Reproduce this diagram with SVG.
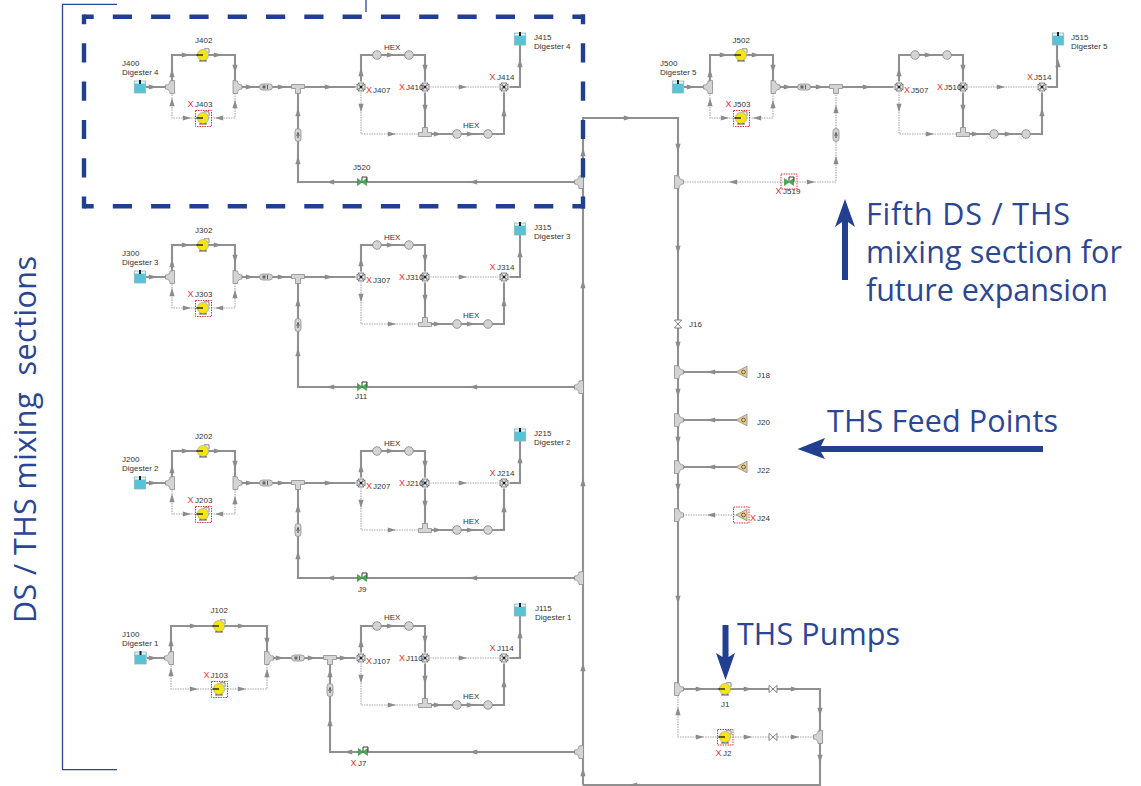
<svg xmlns="http://www.w3.org/2000/svg" width="1141" height="786" viewBox="0 0 1141 786">
<style>
text{font-family:"Liberation Sans",Arial,sans-serif;font-size:8px;fill:#333}
text.x{fill:#e8343a;font-size:9px}
text.big{font-family:"Open Sans","Noto Sans",sans-serif;font-size:30.500px;fill:#2a4695}
.pipe{fill:none;stroke:#909090;stroke-width:2.100}
.dot{fill:none;stroke:#a8a8a8;stroke-width:1.100;stroke-dasharray:1.500 1}
.dash{stroke:#213f90;stroke-width:4.400;stroke-dasharray:19.200 19.100;stroke-dashoffset:9.500;fill:none}
.blue{fill:none;stroke:#2a4695;stroke-width:1.300}
.rb{fill:none;stroke:#e8343a;stroke-width:1;stroke-dasharray:1.500 1}
.ah{fill:#8c8c8c}
.fit{fill:#d4d4d4;stroke:#8c8c8c;stroke-width:.8}
</style>
<defs>
<path id="ar" class="ah" d="M-4.200-2.600L4.200 0L-4.200 2.600Z"/>
<path id="al" class="ah" d="M4.200-2.600L-4.200 0L4.200 2.600Z"/>
<path id="au" class="ah" d="M-2.600 4.200L0-4.200L2.600 4.200Z"/>
<path id="ad" class="ah" d="M-2.600-4.200L0 4.200L2.600-4.200Z"/>
<g id="arL">
<use href="#ar" x="153" y="87"/><use href="#au" x="172" y="73"/><use href="#ar" x="186" y="55"/><use href="#ar" x="218" y="55"/><use href="#ad" x="235" y="69"/><use href="#au" x="172" y="102"/><use href="#ar" x="187" y="118"/><use href="#al" x="219" y="118"/><use href="#au" x="235" y="104"/><use href="#ar" x="250" y="87"/><use href="#ar" x="282" y="87"/><use href="#ar" x="329" y="87"/>
</g>
<g id="arH">
<use href="#au" x="361" y="72"/><use href="#ar" x="391" y="55"/><use href="#ad" x="425" y="69"/><use href="#ad" x="425" y="109"/><use href="#ar" x="438" y="134"/><use href="#ar" x="471" y="134"/><use href="#au" x="504" y="112"/><use href="#au" x="520" y="63"/><use href="#ad" x="361" y="108"/><use href="#ar" x="392" y="134"/><use href="#ar" x="463" y="87"/>
</g>
<g id="tank"><rect x="-5.700" y="-6" width="11.400" height="12" fill="#58c3d4" stroke="#8fb4ba" stroke-width=".8"/><rect x="-5.200" y="-5.600" width="10.400" height="2.200" fill="#e6f5f7"/><rect x="-1" y="-7" width="2" height="4" fill="#222"/></g>
<g id="pump"><path d="M-3 4.500L-4 6.500H4L3 4.500Z" fill="#555"/><path d="M1-6.200H6V-2" fill="none" stroke="#777" stroke-width=".9"/><circle r="5.600" fill="#f4e611" stroke="#9a9a9a" stroke-width=".6"/><path d="M-6.500 0H0" stroke="#111" stroke-width="1.300"/></g>
<path id="teeL" class="fit" d="M-2-6Q-2-2-6.500-2V2Q-2 2-2 6.500H2.500V-6.500Z" stroke-linejoin="round"/>
<path id="teeR" class="fit" d="M2-6Q2-2 6.500-2V2Q2 2 2 6.500H-2.500V-6.500Z" stroke-linejoin="round"/>
<path id="teeD" class="fit" d="M-6.500-2.500H6.500V1.500H2.500V6.500H-2.500V1.500H-6.500Z" stroke-linejoin="round"/>
<path id="teeU" class="fit" d="M-6.500 2.500H6.500V-1.500H2.500V-6.500H-2.500V-1.500H-6.500Z" stroke-linejoin="round"/>
<g id="pillH"><rect x="-6.500" y="-3" width="13" height="6" rx="3" class="fit"/><rect x="-3.500" y="-1.500" width="3" height="3" fill="#666"/><path d="M1.500-2V2" stroke="#444" stroke-width=".8"/></g>
<g id="pillV"><rect x="-3" y="-6.500" width="6" height="13" rx="3" class="fit"/><path d="M0-2.500V3" stroke="#444" stroke-width="1"/><path d="M-1.500 1L0-2.500L1.500 1" fill="none" stroke="#444" stroke-width=".6"/></g>
<circle id="hex" r="4.300" fill="#d4d4d4" stroke="#8c8c8c" stroke-width=".9"/>
<g id="vx"><circle r="5.500" fill="#fff"/><path d="M-4-3L0 0L-4 3ZM4-3L0 0L4 3ZM-3-4L0 0L3-4ZM-3 4L0 0L3 4Z" fill="#e8e8e8" stroke="#555" stroke-width=".7"/><circle r="1.300" fill="#222"/></g>
<g id="vh"><path d="M-4-3.600L4 3.600V-3.600L-4 3.600Z" fill="#fff" stroke="#777" stroke-width=".9"/></g>
<g id="vv"><path d="M-3.600-4L3.600 4H-3.600L3.600-4Z" fill="#fff" stroke="#777" stroke-width=".9"/></g>
<g id="cv"><path d="M-4.500-3.500L4.500 3.500V-3.500L-4.500 3.500Z" fill="#3fae4c" stroke="#2d8a3a" stroke-width=".6"/><path d="M0-1V-5H5V-.5" fill="none" stroke="#222" stroke-width=".9"/></g>
<g id="feed"><path d="M-6 0L5-5.800V5.800Z" fill="#e8cf8f" stroke="#8c8c8c" stroke-width=".8"/><circle cx="1.500" r="1.900" fill="none" stroke="#333" stroke-width=".7"/></g>
</defs>
<rect width="1141" height="786" fill="#fff"/>

<g id="connectors">
<path class="pipe" d="M146 87H172M172 87V55H235V87M235 87H361M298 87V182H581M361 87V55H425V134M425 134H504V87M504 87H520V39"/>
<path class="dot" d="M172 87V118H235V87M361 87V134H425M425 87H504"/>
<path class="pipe" d="M146 277H172M172 277V245H235V277M235 277H361M298 277V387H581M361 277V245H425V324M425 324H504V277M504 277H520V229"/>
<path class="dot" d="M172 277V308H235V277M361 277V324H425M425 277H504"/>
<path class="pipe" d="M146 483H172M172 483V451H235V483M235 483H361M298 483V578H581M361 483V451H425V530M425 530H504V483M504 483H520V435"/>
<path class="dot" d="M172 483V514H235V483M361 483V530H425M425 483H504"/>
<path class="pipe" d="M147 658H171M171 658V626H267V658M267 658H361M330 658V752H581M361 658V626H425V705M425 705H504V658M504 658H520V610"/>
<path class="dot" d="M171 658V689H267V658M361 658V705H425M425 658H504"/>
<path class="pipe" d="M684 87H710M710 87V55H773V87M773 87H899M899 87V55H963V134M963 134H1042V87M1042 87H1057V39"/>
<path class="dot" d="M710 87V118H773V87M836 87V182H680M899 87V134H963M963 87H1042"/>
<path class="pipe" d="M583 785V118H678V689M678 372H742M678 420H742M678 467H742M678 689H820V785H583"/>
<path class="dot" d="M678 515H742M678 689V737H820"/>
<g id="flow-arrows">
<use href="#arL"/><use href="#arL" y="190"/><use href="#arL" y="396"/><use href="#arL" x="538"/>
<use href="#arH"/><use href="#arH" y="190"/><use href="#arH" y="396"/><use href="#arH" y="571"/><use href="#arH" x="538"/>
<use href="#au" x="298" y="112"/><use href="#au" x="298" y="160"/><use href="#al" x="330" y="182"/><use href="#al" x="473" y="182"/>
<use href="#au" x="298" y="302"/><use href="#au" x="298" y="352"/><use href="#al" x="330" y="387"/><use href="#al" x="473" y="387"/>
<use href="#au" x="298" y="508"/><use href="#au" x="298" y="555"/><use href="#al" x="330" y="578"/><use href="#al" x="473" y="578"/>
<use href="#ar" x="153" y="658"/><use href="#au" x="171" y="642"/><use href="#ar" x="194" y="626"/><use href="#ar" x="242" y="626"/><use href="#ad" x="267" y="642"/><use href="#au" x="171" y="672"/><use href="#ar" x="194" y="689"/><use href="#ar" x="242" y="689"/><use href="#au" x="267" y="673"/><use href="#ar" x="280" y="658"/><use href="#ar" x="312" y="658"/><use href="#ar" x="344" y="658"/>
<use href="#au" x="330" y="673"/><use href="#au" x="330" y="722"/><use href="#al" x="348" y="752"/><use href="#al" x="473" y="752"/>
<use href="#au" x="836" y="109"/><use href="#au" x="836" y="160"/><use href="#ar" x="811" y="182"/><use href="#al" x="733" y="182"/>
<use href="#ar" x="628" y="118"/><use href="#ad" x="678" y="148"/><use href="#ad" x="678" y="250"/><use href="#ad" x="678" y="346"/><use href="#ad" x="678" y="393"/><use href="#ad" x="678" y="441"/><use href="#ad" x="678" y="488"/><use href="#ad" x="678" y="600"/>
<use href="#al" x="711" y="372"/><use href="#al" x="711" y="420"/><use href="#al" x="711" y="467"/><use href="#al" x="711" y="515"/>
<use href="#au" x="583" y="152"/><use href="#au" x="583" y="284"/><use href="#au" x="583" y="482"/><use href="#au" x="583" y="667"/><use href="#au" x="583" y="772"/>
<use href="#ar" x="700" y="689"/><use href="#ar" x="748" y="689"/><use href="#ar" x="795" y="689"/><use href="#au" x="678" y="711"/><use href="#ar" x="700" y="737"/><use href="#ar" x="748" y="737"/><use href="#ar" x="795" y="737"/><use href="#ad" x="820" y="712"/><use href="#ad" x="820" y="759"/><use href="#al" x="633" y="785"/>
</g>
</g>

<g id="J400"><use href="#tank" x="140" y="87"/><text x="122" y="66">J400</text><text x="122" y="75">Digester 4</text></g>
<g id="tee401"><use href="#teeL" x="172" y="87"/></g>
<g id="J402"><use href="#pump" x="203" y="55"/><text x="195" y="43">J402</text></g>
<g id="J403"><use href="#pump" x="203" y="118"/><rect class="rb" x="195.500" y="110.500" width="16" height="16"/><text class="x" x="187.500" y="107">X</text><text x="195" y="107">J403</text></g>
<g id="tee404"><use href="#teeR" x="235.500" y="87"/></g>
<g id="inst405"><use href="#pillH" x="266" y="87"/></g>
<g id="tee406"><use href="#teeD" x="298" y="87"/></g>
<g id="inst408"><use href="#pillV" x="298" y="135"/></g>
<g id="J407"><use href="#vx" x="361" y="87"/><text class="x" x="366" y="93">X</text><text x="373" y="93">J407</text></g>
<g id="hex401"><use href="#hex" x="377" y="55"/></g>
<g id="hex402"><use href="#hex" x="409" y="55"/><text x="384" y="50">HEX</text></g>
<g id="J410"><use href="#vx" x="425" y="87"/><text class="x" x="399" y="90">X</text><text x="406" y="90">J410</text></g>
<g id="tee411"><use href="#teeU" x="425" y="134"/></g>
<g id="hex403"><use href="#hex" x="457" y="134"/></g>
<g id="hex404"><use href="#hex" x="488" y="134"/><text x="463" y="128">HEX</text></g>
<g id="J414"><use href="#vx" x="504" y="87"/><text class="x" x="489.500" y="80">X</text><text x="497" y="80">J414</text></g>
<g id="J415"><use href="#tank" x="520" y="39"/><text x="534" y="40">J415</text><text x="534" y="49">Digester 4</text></g>
<g id="J520"><use href="#cv" x="362" y="182"/><text x="353" y="170">J520</text></g>
<g id="tee421"><use href="#teeL" x="581" y="182"/></g>

<g id="J300"><use href="#tank" x="140" y="277"/><text x="122" y="256">J300</text><text x="122" y="265">Digester 3</text></g>
<g id="tee301"><use href="#teeL" x="172" y="277"/></g>
<g id="J302"><use href="#pump" x="203" y="245"/><text x="195" y="233">J302</text></g>
<g id="J303"><use href="#pump" x="203" y="308"/><rect class="rb" x="195.500" y="300.500" width="16" height="16"/><text class="x" x="187.500" y="297">X</text><text x="195" y="297">J303</text></g>
<g id="tee304"><use href="#teeR" x="235.500" y="277"/></g>
<g id="inst305"><use href="#pillH" x="266" y="277"/></g>
<g id="tee306"><use href="#teeD" x="298" y="277"/></g>
<g id="inst308"><use href="#pillV" x="298" y="325"/></g>
<g id="J307"><use href="#vx" x="361" y="277"/><text class="x" x="366" y="283">X</text><text x="373" y="283">J307</text></g>
<g id="hex301"><use href="#hex" x="377" y="245"/></g>
<g id="hex302"><use href="#hex" x="409" y="245"/><text x="384" y="240">HEX</text></g>
<g id="J310"><use href="#vx" x="425" y="277"/><text class="x" x="399" y="280">X</text><text x="406" y="280">J310</text></g>
<g id="tee311"><use href="#teeU" x="425" y="324"/></g>
<g id="hex303"><use href="#hex" x="457" y="324"/></g>
<g id="hex304"><use href="#hex" x="488" y="324"/><text x="463" y="318">HEX</text></g>
<g id="J314"><use href="#vx" x="504" y="277"/><text class="x" x="489.500" y="270">X</text><text x="497" y="270">J314</text></g>
<g id="J315"><use href="#tank" x="520" y="229"/><text x="534" y="230">J315</text><text x="534" y="239">Digester 3</text></g>
<g id="J11"><use href="#cv" x="362" y="387"/><text x="355" y="399">J11</text></g>
<g id="tee321"><use href="#teeL" x="581" y="387"/></g>

<g id="J200"><use href="#tank" x="140" y="483"/><text x="122" y="462">J200</text><text x="122" y="471">Digester 2</text></g>
<g id="tee201"><use href="#teeL" x="172" y="483"/></g>
<g id="J202"><use href="#pump" x="203" y="451"/><text x="195" y="439">J202</text></g>
<g id="J203"><use href="#pump" x="203" y="514"/><rect class="rb" x="195.500" y="506.500" width="16" height="16"/><text class="x" x="187.500" y="503">X</text><text x="195" y="503">J203</text></g>
<g id="tee204"><use href="#teeR" x="235.500" y="483"/></g>
<g id="inst205"><use href="#pillH" x="266" y="483"/></g>
<g id="tee206"><use href="#teeD" x="298" y="483"/></g>
<g id="inst208"><use href="#pillV" x="298" y="530"/></g>
<g id="J207"><use href="#vx" x="361" y="483"/><text class="x" x="366" y="489">X</text><text x="373" y="489">J207</text></g>
<g id="hex201"><use href="#hex" x="377" y="451"/></g>
<g id="hex202"><use href="#hex" x="409" y="451"/><text x="384" y="446">HEX</text></g>
<g id="J210"><use href="#vx" x="425" y="483"/><text class="x" x="399" y="486">X</text><text x="406" y="486">J210</text></g>
<g id="tee211"><use href="#teeU" x="425" y="530"/></g>
<g id="hex203"><use href="#hex" x="457" y="530"/></g>
<g id="hex204"><use href="#hex" x="488" y="530"/><text x="463" y="524">HEX</text></g>
<g id="J214"><use href="#vx" x="504" y="483"/><text class="x" x="489.500" y="476">X</text><text x="497" y="476">J214</text></g>
<g id="J215"><use href="#tank" x="520" y="435"/><text x="534" y="436">J215</text><text x="534" y="445">Digester 2</text></g>
<g id="J9"><use href="#cv" x="362" y="578"/><text x="358" y="592">J9</text></g>
<g id="tee221"><use href="#teeL" x="581" y="578"/></g>

<g id="J100"><use href="#tank" x="140.500" y="658"/><text x="122" y="637">J100</text><text x="122" y="646">Digester 1</text></g>
<g id="tee101"><use href="#teeL" x="171" y="658"/></g>
<g id="J102"><use href="#pump" x="219" y="626"/><text x="210.500" y="613">J102</text></g>
<g id="J103"><use href="#pump" x="219" y="689"/><rect class="rb" x="211.500" y="681.500" width="16" height="16"/><text class="x" x="203.500" y="678">X</text><text x="210.500" y="678">J103</text></g>
<g id="tee104"><use href="#teeR" x="267" y="658"/></g>
<g id="inst105"><use href="#pillH" x="298" y="658"/></g>
<g id="tee106"><use href="#teeD" x="330" y="658"/></g>
<g id="inst108"><use href="#pillV" x="330" y="690"/></g>
<g id="J107"><use href="#vx" x="361" y="658"/><text class="x" x="366" y="664">X</text><text x="373" y="664">J107</text></g>
<g id="hex101"><use href="#hex" x="377" y="626"/></g>
<g id="hex102"><use href="#hex" x="409" y="626"/><text x="384" y="620">HEX</text></g>
<g id="J110"><use href="#vx" x="425" y="658"/><text class="x" x="399" y="661">X</text><text x="406" y="661">J110</text></g>
<g id="tee111"><use href="#teeU" x="425" y="705"/></g>
<g id="hex103"><use href="#hex" x="457" y="705"/></g>
<g id="hex104"><use href="#hex" x="488" y="705"/><text x="463" y="699">HEX</text></g>
<g id="J114"><use href="#vx" x="504" y="658"/><text class="x" x="489.500" y="651">X</text><text x="497" y="651">J114</text></g>
<g id="J115"><use href="#tank" x="520" y="610"/><text x="535" y="611">J115</text><text x="535" y="620">Digester 1</text></g>
<g id="J7"><use href="#cv" x="363" y="752"/><text class="x" x="350.500" y="766">X</text><text x="358" y="766">J7</text></g>
<g id="tee121"><use href="#teeL" x="581" y="752"/></g>

<g id="J500"><use href="#tank" x="678" y="87"/><text x="660" y="66">J500</text><text x="660" y="75">Digester 5</text></g>
<g id="tee501"><use href="#teeL" x="710" y="87"/></g>
<g id="J502"><use href="#pump" x="741" y="55"/><text x="732.500" y="43">J502</text></g>
<g id="J503"><use href="#pump" x="741" y="118"/><rect class="rb" x="733.500" y="110.500" width="16" height="16"/><text class="x" x="725.500" y="107">X</text><text x="733" y="107">J503</text></g>
<g id="tee504"><use href="#teeR" x="773.500" y="87"/></g>
<g id="inst505"><use href="#pillH" x="804" y="87"/></g>
<g id="tee506"><use href="#teeD" x="836" y="87"/></g>
<g id="inst508"><use href="#pillV" x="836" y="135"/></g>
<g id="J507"><use href="#vx" x="899" y="87"/><text class="x" x="904" y="93">X</text><text x="911" y="93">J507</text></g>
<g id="hex501"><use href="#hex" x="915" y="55"/></g>
<g id="hex502"><use href="#hex" x="947" y="55"/></g>
<g id="J510"><use href="#vx" x="963" y="87"/><text class="x" x="937" y="90">X</text><text x="944" y="90">J510</text></g>
<g id="tee511"><use href="#teeU" x="963" y="134"/></g>
<g id="hex503"><use href="#hex" x="994" y="134"/></g>
<g id="hex504"><use href="#hex" x="1026" y="134"/></g>
<g id="J514"><use href="#vx" x="1042" y="87"/><text class="x" x="1027" y="80">X</text><text x="1034" y="80">J514</text></g>
<g id="J515"><use href="#tank" x="1058" y="39"/><text x="1071" y="40">J515</text><text x="1071" y="49">Digester 5</text></g>
<g id="J519"><use href="#cv" x="789" y="182"/><rect class="rb" x="781" y="174" width="16" height="15"/><text class="x" x="775.500" y="194">X</text><text x="783" y="194">J519</text></g>
<g id="tee521"><use href="#teeR" x="677" y="182"/></g>

<g id="J16"><use href="#vv" x="678" y="324"/><text x="689" y="327">J16</text></g>
<g id="tee18"><use href="#teeR" x="677" y="372"/></g>
<g id="J18"><use href="#feed" x="742" y="372"/><text x="757" y="378">J18</text></g>
<g id="tee20"><use href="#teeR" x="677" y="420"/></g>
<g id="J20"><use href="#feed" x="742" y="420"/><text x="757" y="425">J20</text></g>
<g id="tee22"><use href="#teeR" x="677" y="467"/></g>
<g id="J22"><use href="#feed" x="742" y="467"/><text x="757" y="473">J22</text></g>
<g id="tee24"><use href="#teeR" x="677" y="515"/></g>
<g id="J24"><use href="#feed" x="742" y="515"/><rect class="rb" x="733.500" y="507" width="15.500" height="16"/><text class="x" x="750" y="521">X</text><text x="757" y="521">J24</text></g>
<g id="tee1"><use href="#teeR" x="677" y="689"/></g>
<g id="J1"><use href="#pump" x="725" y="689"/><text x="721" y="707">J1</text></g>
<g id="valve1"><use href="#vh" x="773" y="689"/></g>
<g id="J2"><use href="#pump" x="725" y="737"/><rect class="rb" x="717.500" y="729.500" width="15.500" height="15.500"/><text class="x" x="715.500" y="756">X</text><text x="723" y="756">J2</text></g>
<g id="valve2"><use href="#vh" x="773" y="737"/></g>
<g id="tee2"><use href="#teeL" x="820" y="737"/></g>

<g id="highlight">
<line class="dash" x1="84" y1="16.700" x2="585" y2="16.700"/>
<line class="dash" x1="84" y1="206.300" x2="585" y2="206.300"/>
<line class="dash" x1="84" y1="14.500" x2="84" y2="208.500"/>
<line class="dash" x1="583" y1="14.500" x2="583" y2="208.500"/>
</g>
<g id="bracket">
<path class="blue" d="M117 4.300H62.500V769.700H117"/>
<path class="blue" d="M366 0V12"/>
</g>
<g id="annotations" fill="#233f90">
<path d="M845 199L855 227L848 222V280H842V222L835 227Z"/>
<path d="M797.500 449L825 438L821 446H1043V452H821L825 459Z"/>
<path d="M725.500 680L716 653L722.500 657V625H728.500V657L735 653Z"/>
<text class="big" x="866" y="225" textLength="204">Fifth DS / THS</text>
<text class="big" x="866" y="263" textLength="256">mixing section for</text>
<text class="big" x="866" y="301" textLength="242">future expansion</text>
<text class="big" x="827" y="431.500" textLength="231">THS Feed Points</text>
<text class="big" x="737" y="645" textLength="163">THS Pumps</text>
<text class="big" x="36" y="623" transform="rotate(-90 36 623)" textLength="367" xml:space="preserve">DS / THS mixing  sections</text>
</g>
</svg>
